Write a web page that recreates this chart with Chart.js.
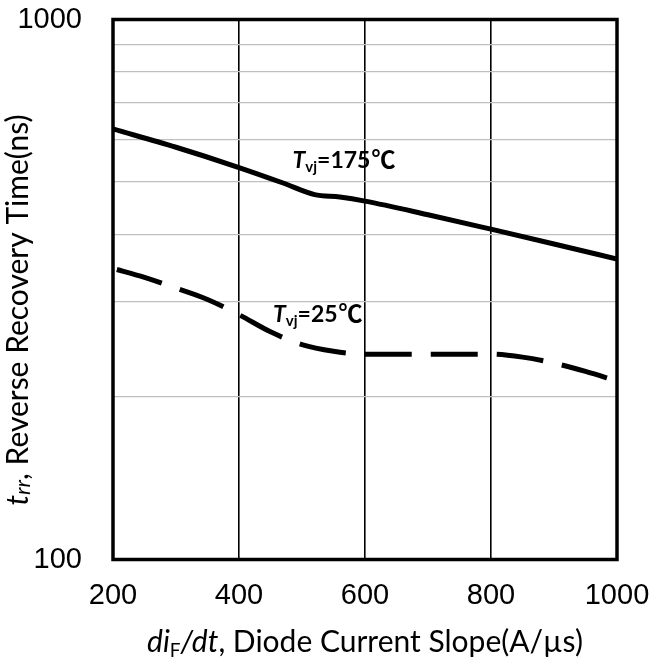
<!DOCTYPE html>
<html>
<head>
    <title>Reverse Recovery Time vs diF/dt</title>
    <meta charset="UTF-8">
    <style>
        body {
            margin: 0;
            background: #ffffff;
        }
        #wrap {
            width: 653px;
            height: 664px;
            position: relative;
        }
    </style>
</head>
<body>
    <div id="wrap">
        <canvas id="trrChart"></canvas>
    </div>

    <script src="https://cdn.jsdelivr.net/npm/chart.js"></script>

    <script>
        // Data
        const slopes175 = [200, 300, 400, 470, 520, 560, 600, 700, 800, 900, 1000];
        const trr175 = [627, 580, 532, 498, 474, 469, 461, 435, 409, 384, 360];

        const slopes25 = [200, 250, 300, 350, 400, 450, 500, 550, 600, 700, 800, 850, 900, 950, 1000];
        const trr25 = [346, 333, 318, 303, 284, 264, 250, 243, 240, 240, 240, 237, 231, 223, 214];

        // Axis ticks
        const xTicks = [200, 400, 600, 800, 1000];
        const yTicks = [100, 200, 300, 400, 500, 600, 700, 800, 900, 1000];
        const yLabelled = [100, 1000];

        // Curve labels, anchored in data coordinates
        const curveLabels = [
            { x: 485, y: 530, temp: '175' },
            { x: 454, y: 275, temp: '25' }
        ];

        const textFamily = 'Lato, "Noto Sans", "Noto Sans CJK SC", sans-serif';
        const tickFamily = '"Liberation Sans", Arial, sans-serif';

        function toPoints(xs, ys) {
            return xs.map((x, i) => ({ x: x, y: ys[i] }));
        }

        // draw a list of text pieces (italic / bold / subscript) one after another
        function drawRuns(ctx, runs, x, y, align) {
            const fontOf = r => (r.italic ? 'italic ' : '') + (r.bold ? 'bold ' : '') + r.size + 'px ' + (r.family || textFamily);
            let total = 0;
            runs.forEach(r => {
                ctx.font = fontOf(r);
                r.w = ctx.measureText(r.text).width;
                total += r.w + (r.gap || 0);
            });
            let cx = align === 'center' ? x - total / 2 : x;
            ctx.textAlign = 'left';
            ctx.textBaseline = 'alphabetic';
            runs.forEach(r => {
                ctx.font = fontOf(r);
                ctx.fillText(r.text, cx, y + (r.dy || 0));
                cx += r.w + (r.gap || 0);
            });
        }

        const textPlugin = {
            id: 'textPlugin',
            beforeDraw(chart) {
                // curve labels go under the grid lines
                const ctx = chart.ctx;
                const xs = chart.scales.x;
                const ys = chart.scales.y;
                ctx.save();
                ctx.fillStyle = '#000';
                curveLabels.forEach(l => {
                    drawRuns(ctx, [
                        { text: 'T', italic: true, bold: true, size: 23 },
                        { text: 'vj', bold: true, size: 15, dy: 4 },
                        { text: '=' + l.temp, bold: true, size: 23, gap: 1 },
                        { text: '℃', bold: true, size: 24, family: '"Noto Sans CJK SC", sans-serif' }
                    ], xs.getPixelForValue(l.x), ys.getPixelForValue(l.y), 'left');
                });
                ctx.restore();
            },
            afterDraw(chart) {
                const ctx = chart.ctx;
                const a = chart.chartArea;
                ctx.save();
                // plot frame
                ctx.strokeStyle = '#000';
                ctx.lineWidth = 3.5;
                ctx.strokeRect(a.left, a.top, a.right - a.left, a.bottom - a.top);

                ctx.fillStyle = '#000';
                // x axis title
                drawRuns(ctx, [
                    { text: 'di', italic: true, size: 30 },
                    { text: 'F', size: 19, dy: 5 },
                    { text: '/dt', italic: true, size: 30 },
                    { text: ', Diode Current Slope(A/\u00b5s)', size: 30 }
                ], (a.left + a.right) / 2, 652, 'center');

                // y axis title
                ctx.translate(28, 310);
                ctx.rotate(-Math.PI / 2);
                drawRuns(ctx, [
                    { text: 't', italic: true, size: 30 },
                    { text: 'rr', italic: true, size: 22, dy: 2 },
                    { text: ', Reverse Recovery Time(ns)', size: 30 }
                ], 0, 0, 'center');
                ctx.restore();
            }
        };

        const ctx = document.getElementById('trrChart').getContext('2d');

        const trrChart = new Chart(ctx, {
            type: 'line',
            data: {
                datasets: [
                    {
                        label: 'Tvj=175℃',
                        data: toPoints(slopes175, trr175),
                        borderColor: '#000',
                        borderWidth: 5,
                        pointRadius: 0,
                        cubicInterpolationMode: 'monotone',
                        fill: false
                    },
                    {
                        label: 'Tvj=25℃',
                        data: toPoints(slopes25, trr25),
                        borderColor: '#000',
                        borderWidth: 5,
                        borderDash: [47, 19],
                        borderDashOffset: 62,
                        pointRadius: 0,
                        cubicInterpolationMode: 'monotone',
                        fill: false
                    }
                ]
            },
            options: {
                responsive: true,
                maintainAspectRatio: false,
                animation: false,
                layout: {
                    padding: { top: 19.5, right: 36, left: 0, bottom: 0 }
                },
                plugins: {
                    legend: { display: false },
                    tooltip: { enabled: false }
                },
                scales: {
                    x: {
                        type: 'linear',
                        min: 200,
                        max: 1000,
                        afterBuildTicks: scale => {
                            scale.ticks = xTicks.map(v => ({ value: v }));
                        },
                        afterFit: scale => {
                            scale.height = 104.5;
                            scale.paddingLeft = 0;
                            scale.paddingRight = 0;
                        },
                        grid: {
                            color: '#000',
                            lineWidth: 1.6,
                            drawTicks: false
                        },
                        border: { display: false },
                        ticks: {
                            color: '#000',
                            padding: 19,
                            maxRotation: 0,
                            font: { family: tickFamily, size: 29 },
                            callback: value => String(value)
                        }
                    },
                    y: {
                        type: 'logarithmic',
                        min: 100,
                        max: 1000,
                        afterBuildTicks: scale => {
                            scale.ticks = yTicks.map(v => ({ value: v }));
                        },
                        afterFit: scale => {
                            scale.width = 113;
                            scale.paddingTop = 0;
                            scale.paddingBottom = 0;
                        },
                        grid: {
                            color: '#bfbfbf',
                            lineWidth: 1.3,
                            drawTicks: false
                        },
                        border: { display: false },
                        ticks: {
                            color: '#000',
                            padding: 31,
                            autoSkip: false,
                            font: { family: tickFamily, size: 29 },
                            callback: value => yLabelled.includes(value) ? String(value) : ''
                        }
                    }
                }
            },
            plugins: [textPlugin]
        });
    </script>
</body>
</html>
